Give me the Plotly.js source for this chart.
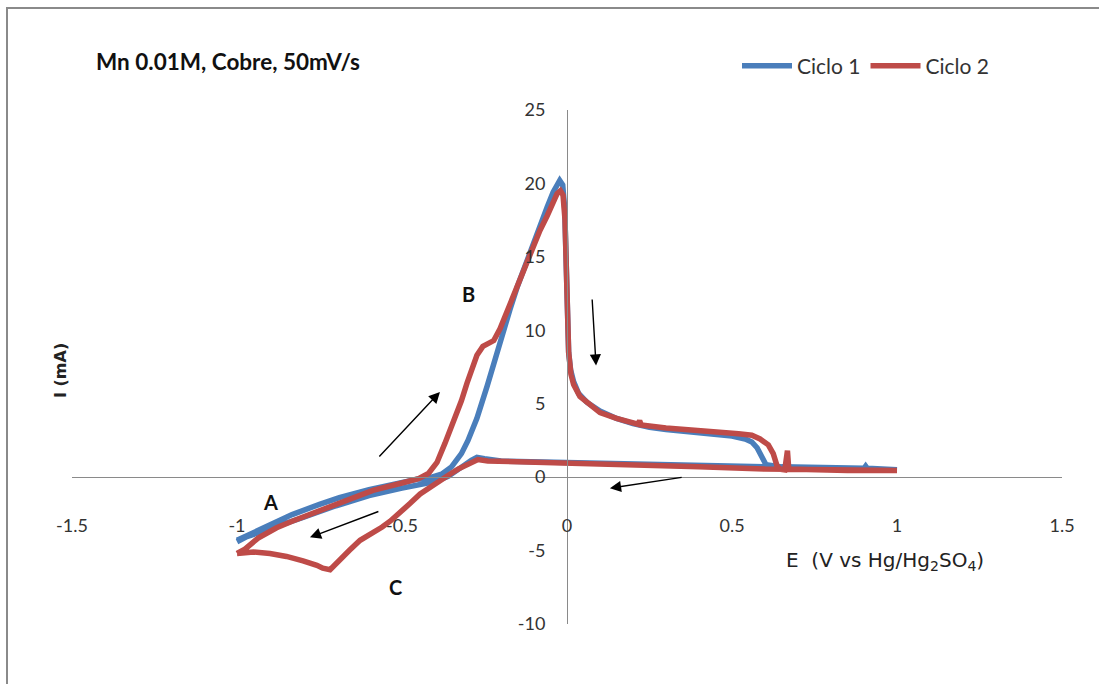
<!DOCTYPE html>
<html>
<head>
<meta charset="utf-8">
<script src="https://cdn.plot.ly/plotly-3.0.1.min.js"></script>
<style>html,body{margin:0;padding:0;background:#fff;}#chart{width:1099px;height:684px;}</style>
</head>
<body>
<div id="chart"></div>
<script>
// Ciclo 1 (blue): E in V vs Hg/Hg2SO4, I in mA
const ciclo1_E = [-1.0,-0.95,-0.9,-0.833,-0.75,-0.69,-0.6,-0.5,-0.45,-0.41,-0.38,-0.35,-0.32,-0.3,-0.273,-0.242,-0.212,-0.19,-0.173,-0.15,-0.121,-0.1,-0.082,-0.06,-0.042,-0.03,-0.022,-0.013,-0.007,-0.003,0.001,0.005,0.011,0.02,0.035,0.06,0.1,0.15,0.2,0.25,0.3,0.4,0.45,0.5,0.54,0.56,0.576,0.588,0.596,0.603,0.65,0.75,0.9,0.905,0.91,1.0,
  0.8,0.6,0.4,0.2,0.0,-0.1,-0.2,-0.25,-0.273,-0.29,-0.31,-0.33,-0.36,-0.4,-0.45,-0.5,-0.6,-0.7,-0.8,-0.9,-0.97,-1.0];
const ciclo1_I = [-4.3,-3.75,-3.2,-2.55,-1.85,-1.4,-0.85,-0.35,-0.12,0.0,0.2,0.7,1.6,2.5,4.0,6.2,8.6,10.1,11.4,13.0,14.8,16.0,17.1,18.4,19.4,20.0,20.2,19.9,18.3,15,11,8.5,7.3,6.5,5.7,5.1,4.5,4.0,3.65,3.4,3.25,3.05,2.95,2.8,2.6,2.4,2.0,1.5,1.1,0.85,0.7,0.65,0.6,0.75,0.6,0.5,
  0.6,0.75,0.85,0.95,1.0,1.05,1.1,1.25,1.35,1.15,0.85,0.5,0.05,-0.3,-0.5,-0.75,-1.25,-1.95,-2.75,-3.5,-4.05,-4.4];

// Ciclo 2 (red)
const ciclo2_E = [-1.0,-0.976,-0.936,-0.88,-0.833,-0.733,-0.65,-0.588,-0.5,-0.45,-0.42,-0.394,-0.37,-0.345,-0.32,-0.303,-0.285,-0.273,-0.255,-0.24,-0.222,-0.203,-0.185,-0.164,-0.14,-0.121,-0.1,-0.082,-0.06,-0.042,-0.03,-0.02,-0.012,-0.006,-0.002,0.002,0.005,0.012,0.02,0.039,0.07,0.1,0.15,0.2,0.215,0.22,0.225,0.3,0.4,0.464,0.52,0.56,0.585,0.61,0.625,0.636,0.645,0.66,0.664,0.668,0.672,0.75,0.85,1.0,
  0.8,0.6,0.4,0.2,0.0,-0.1,-0.2,-0.24,-0.27,-0.29,-0.303,-0.33,-0.355,-0.38,-0.406,-0.425,-0.445,-0.476,-0.5,-0.515,-0.536,-0.56,-0.6,-0.627,-0.66,-0.679,-0.7,-0.718,-0.74,-0.758,-0.8,-0.85,-0.9,-0.95,-1.0];
const ciclo2_I = [-5.2,-4.9,-4.15,-3.45,-3.0,-2.15,-1.45,-0.9,-0.4,-0.1,0.25,1.0,2.3,3.7,5.2,6.4,7.6,8.3,8.9,9.1,9.3,10.1,11.1,12.3,13.7,14.7,15.8,16.8,17.8,18.7,19.3,19.5,19.2,17.5,15,11,8.5,7.0,6.3,5.5,4.9,4.4,4.0,3.65,3.6,3.85,3.55,3.35,3.2,3.05,2.95,2.85,2.6,2.2,1.6,0.8,0.55,0.5,1.8,1.8,0.55,0.5,0.45,0.45,
  0.48,0.55,0.7,0.82,0.9,0.95,1.0,1.1,1.2,1.0,0.85,0.55,0.2,-0.15,-0.5,-0.85,-1.15,-1.8,-2.3,-2.6,-3.0,-3.4,-3.9,-4.3,-5.0,-5.4,-5.9,-6.3,-6.2,-6.0,-5.7,-5.4,-5.2,-5.1,-5.2];

const xTicks = [-1.5,-1,-0.5,0,0.5,1,1.5];
const yTicks = [-10,-5,0,5,10,15,20,25];
const seriesNames = ['Ciclo 1','Ciclo 2'];

// Labels A, B, C and arrows (data coordinates)
const peakLabels = ['A','B','C'];
const peakLabelE = [-0.9,-0.3,-0.52];
const peakLabelI = [-1.7,12.5,-7.5];
const arrowTailE = [-0.573,-0.567,0.076,0.352];
const arrowTailI = [1.3,-2.3,12.2,0.0];
const arrowHeadE = [-0.385,-0.779,0.088,0.13];
const arrowHeadI = [5.8,-4.1,7.6,-0.75];

const traces = [
  {x: ciclo1_E, y: ciclo1_I, name: seriesNames[0], mode: 'lines', type: 'scatter',
   line: {color: '#4A7EBB', width: 5.5}},
  {x: ciclo2_E, y: ciclo2_I, name: seriesNames[1], mode: 'lines', type: 'scatter',
   line: {color: '#BE4B48', width: 5.5}}
];

const annotations = [];
for (let i = 0; i < peakLabels.length; i++) {
  annotations.push({x: peakLabelE[i], y: peakLabelI[i], xref: 'x', yref: 'y', text: '<b>' + peakLabels[i] + '</b>',
    showarrow: false, font: {family: 'Lato, Carlito, sans-serif', size: 20, color: '#111'}});
}
for (let i = 0; i < arrowTailE.length; i++) {
  annotations.push({x: arrowHeadE[i], y: arrowHeadI[i], ax: arrowTailE[i], ay: arrowTailI[i],
    xref: 'x', yref: 'y', axref: 'x', ayref: 'y', text: '', showarrow: true,
    arrowhead: 2, arrowsize: 1.6, arrowwidth: 1.4, arrowcolor: '#000'});
}
annotations.push({xref: 'paper', yref: 'paper', x: (60 - 72) / 990, y: (624 - 371) / 514,
  xanchor: 'center', yanchor: 'middle',
  text: '<b>I (mA)</b>', textangle: -90, showarrow: false,
  font: {family: 'DejaVu Sans', size: 16, color: '#222'}});
annotations.push({xref: 'paper', yref: 'paper', x: (885 - 72) / 990, y: (624 - 561) / 514,
  xanchor: 'center', yanchor: 'middle',
  text: 'E  (V vs Hg/Hg<sub>2</sub>SO<sub>4</sub>)', showarrow: false,
  font: {family: 'DejaVu Sans', size: 20, color: '#222'}});

const layout = {
  width: 1099, height: 684,
  margin: {l: 72, r: 37, t: 110, b: 60},
  paper_bgcolor: '#fff', plot_bgcolor: '#fff',
  title: {text: '<b>Mn 0.01M, Cobre, 50mV/s</b>', xref: 'container', yref: 'container',
    x: 96 / 1099, xanchor: 'left', y: 1 - 62 / 684, yanchor: 'middle',
    font: {family: 'Lato, Carlito, sans-serif', size: 22.5, color: '#111'}},
  xaxis: {range: [-1.5, 1.5], tickvals: xTicks, ticktext: xTicks.map(String), showgrid: false, zeroline: false,
    showline: true, linecolor: '#8a8a8a', linewidth: 1, ticks: '',
    anchor: 'free', position: 10 / 35, ticklabelstandoff: 32,
    tickfont: {family: 'Lato, Carlito, sans-serif', size: 18, color: '#333'}},
  yaxis: {range: [-10, 25], tickvals: yTicks, ticktext: yTicks.map(String), showgrid: false, zeroline: false,
    showline: true, linecolor: '#8a8a8a', linewidth: 1, ticks: '',
    anchor: 'free', position: 0.5, ticklabelstandoff: 18,
    tickfont: {family: 'Lato, Carlito, sans-serif', size: 18, color: '#333'}},
  legend: {orientation: 'h', x: (737 - 72) / 990, xanchor: 'left', y: (624 - 66) / 514, yanchor: 'middle',
    font: {family: 'Lato, Carlito, sans-serif', size: 21, color: '#333'}, bgcolor: 'rgba(0,0,0,0)',
    itemwidth: 50, tracegroupgap: 0},
  showlegend: true,
  annotations: annotations,
  shapes: [{type: 'rect', xref: 'paper', yref: 'paper', x0: (7 - 72) / 990, x1: 1.2, y0: -0.3, y1: (624 - 8) / 514,
    line: {color: '#8a8a8a', width: 2}, fillcolor: 'rgba(0,0,0,0)', layer: 'below'}]
};

Plotly.newPlot('chart', traces, layout, {displayModeBar: false, staticPlot: true});
</script>
</body>
</html>
